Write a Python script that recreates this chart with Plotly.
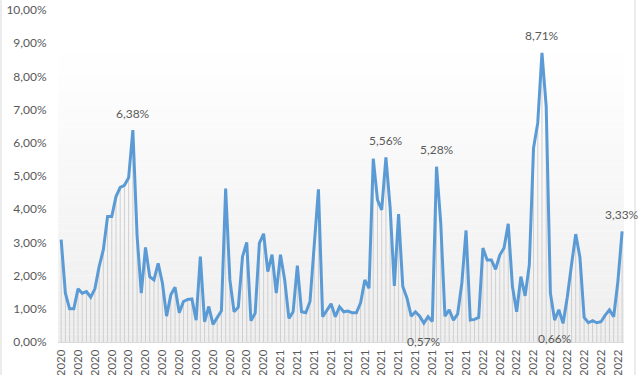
import plotly.graph_objects as go

# ---- data (percent values) ----
values = [
    3.08, 1.47, 1.00, 1.00, 1.60, 1.47, 1.52, 1.35, 1.60, 2.27,
    2.78, 3.78, 3.78, 4.38, 4.66, 4.72, 4.95, 6.38, 3.20, 1.47,
    2.85, 1.97, 1.87, 2.37, 1.78, 0.78, 1.42, 1.65, 0.88, 1.22,
    1.28, 1.30, 0.66, 2.57, 0.61, 1.07, 0.53, 0.73, 0.94, 4.62,
    1.87, 0.91, 1.05, 2.57, 3.00, 0.64, 0.87, 2.98, 3.26, 2.12,
    2.63, 1.47, 2.63, 1.87, 0.71, 0.91, 2.30, 0.91, 0.88, 1.22,
    2.90, 4.60, 0.76, 0.94, 1.15, 0.76, 1.06, 0.91, 0.93, 0.88,
    0.88, 1.18, 1.87, 1.62, 5.52, 4.28, 3.98, 5.56, 4.05, 1.69,
    3.85, 1.67, 1.32, 0.78, 0.91, 0.78, 0.57, 0.76, 0.62, 5.28,
    3.58, 0.78, 0.97, 0.66, 0.84, 1.77, 3.36, 0.66, 0.68, 0.74,
    2.83, 2.47, 2.47, 2.19, 2.62, 2.83, 3.56, 1.67, 0.91, 1.97,
    1.39, 2.32, 5.84, 6.60, 8.71, 7.10, 1.47, 0.66, 0.97, 0.56,
    1.35, 2.32, 3.25, 2.55, 0.74, 0.58, 0.64, 0.58, 0.61, 0.81,
    0.97, 0.76, 1.82, 3.33,
]
tick_labels = ["2020"] * 13 + ["2021"] * 12 + ["2022"] * 9
label_step = 4
labels_above = [17, 77, 89, 114, 133]
labels_below = [86, 117]

n = len(values)
x = list(range(n))
tickvals = [i * label_step for i in range(len(tick_labels))]

def fmt(v):
    return f"{v:.2f}%".replace(".", ",")

FONT = "Lato, 'Open Sans', sans-serif"
TXT = "#595959"

fig = go.Figure()

# drop lines from each point to the axis
fig.add_trace(go.Scatter(
    x=x, y=values, mode="markers",
    marker=dict(size=1, color="rgba(0,0,0,0)"),
    error_y=dict(type="data", symmetric=False, array=[0] * n,
                 arrayminus=values, width=0, thickness=1, color="#cfcfcf"),
    hoverinfo="skip", showlegend=False,
))

# main line
fig.add_trace(go.Scatter(
    x=x, y=values, mode="lines",
    line=dict(color="#5B9BD5", width=3),
    showlegend=False,
))

# gradient plot background (white at top -> light grey at bottom)
shapes = []
bands = 40
top_v = 8.9
for b in range(bands):
    y0 = top_v * b / bands
    y1 = top_v * (b + 1) / bands
    frac = 1 - (b + 0.5) / bands
    g = int(round(255 - 17 * frac))
    shapes.append(dict(type="rect", xref="paper", yref="y", x0=0, x1=1,
                       y0=y0, y1=y1, line=dict(width=0),
                       fillcolor=f"rgb({g},{g},{g})", layer="below"))
# chart border (left / right)
for px in (-0.1007, 1.0194):
    shapes.append(dict(type="line", xref="paper", yref="paper", x0=px, x1=px,
                       y0=-0.2, y1=1.05, line=dict(color="#d9d9d9", width=1)))

annotations = []
for i in labels_above:
    annotations.append(dict(x=i, y=values[i], text=fmt(values[i]), showarrow=False,
                            yshift=17, font=dict(family=FONT, size=12, color=TXT)))
for i in labels_below:
    annotations.append(dict(x=i, y=values[i], text=fmt(values[i]), showarrow=False,
                            yshift=-18, font=dict(family=FONT, size=12, color=TXT)))

fig.update_layout(
    width=640, height=375,
    margin=dict(l=58, r=16, t=10, b=33, autoexpand=False),
    paper_bgcolor="white", plot_bgcolor="rgba(0,0,0,0)",
    separators=",.",
    font=dict(family=FONT, size=12, color=TXT),
    shapes=shapes, annotations=annotations,
    xaxis=dict(
        range=[-0.75, n - 1 + 0.45],
        tickmode="array", tickvals=tickvals, ticktext=tick_labels,
        tickangle=-90, tickfont=dict(size=11.5, color=TXT),
        ticks="outside", ticklen=2, tickcolor="rgba(0,0,0,0)",
        showgrid=False, zeroline=False,
        showline=True, linecolor="#d9d9d9", linewidth=1,
        automargin=False,
    ),
    yaxis=dict(
        range=[0, 10], tickmode="array", tickvals=list(range(0, 11)),
        ticktext=[fmt(v) for v in range(0, 11)],
        tickfont=dict(size=12, color=TXT),
        ticks="outside", ticklen=8, tickcolor="rgba(0,0,0,0)",
        showgrid=False, zeroline=False, showline=False,
        automargin=False,
    ),
)

fig.write_html("out.html",
               config={"displayModeBar": False},
               post_script="document.body.style.margin='0px';document.body.style.overflow='hidden';")
